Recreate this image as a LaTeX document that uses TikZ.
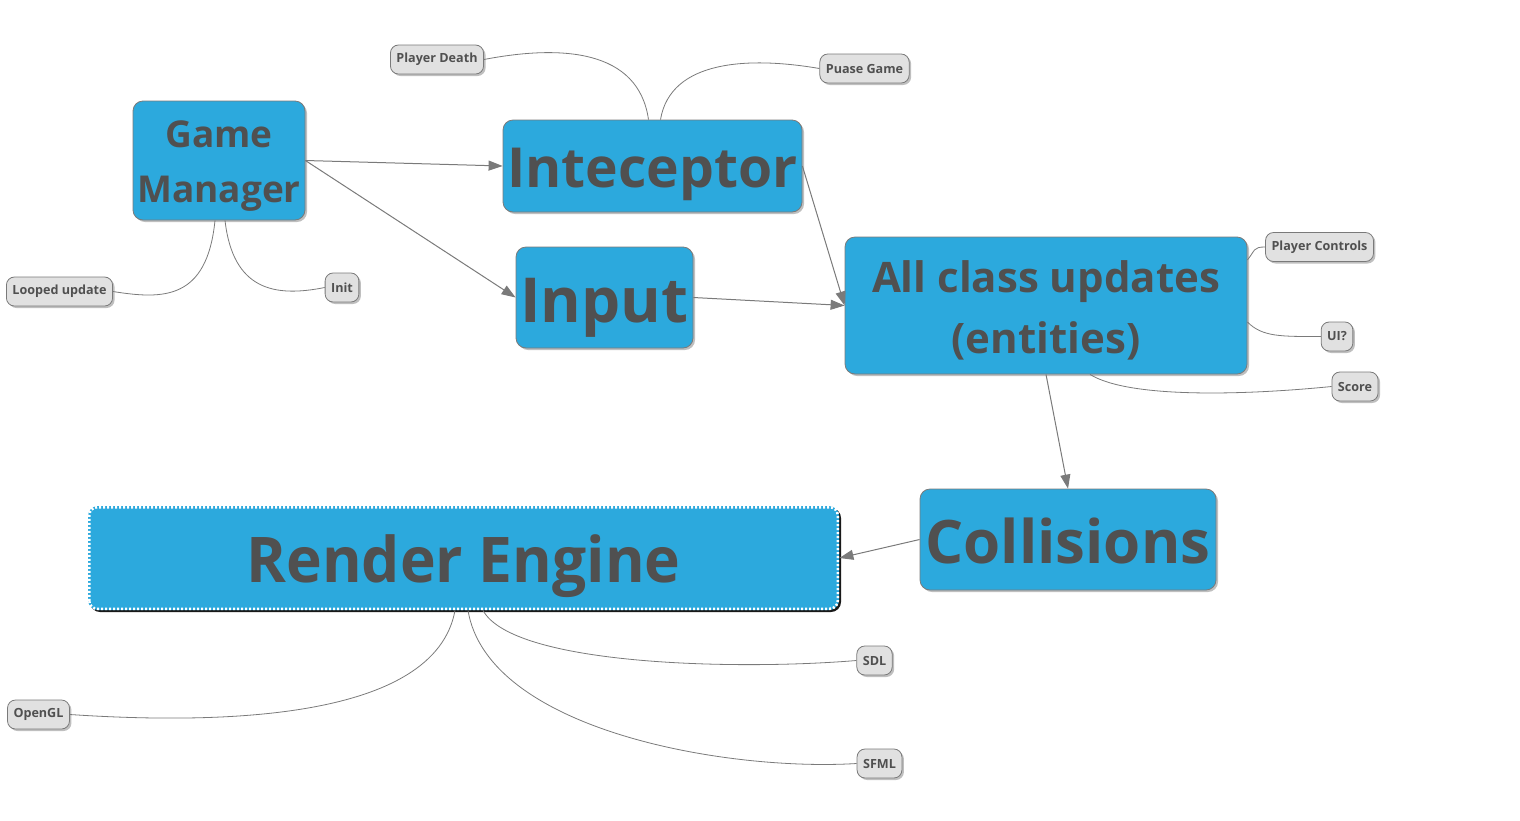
\documentclass[tikz,border=0pt]{standalone}
\usepackage{fontspec}
\setmainfont{Open Sans}
\newfontfamily\condfont[FakeStretch=0.96]{Open Sans}
\usetikzlibrary{arrows.meta,shadows}
\definecolor{boxblue}{HTML}{2CA9DD}
\definecolor{inkgray}{HTML}{505050}
\definecolor{linegray}{HTML}{7A7A7A}
\definecolor{tagfill}{HTML}{E1E1E1}

\begin{document}
\begin{tikzpicture}[x=0.5pt,y=-0.5pt,
  big/.style={draw=linegray, fill=boxblue, rounded corners=5pt, text=inkgray,
    font=\bfseries, align=center, inner sep=0pt, text depth=0pt,
    drop shadow={shadow xshift=1pt, shadow yshift=-1pt, fill=black, opacity=0.25}},
  tag/.style={draw=linegray, fill=tagfill, rounded corners=4pt, text=inkgray,
    font=\fontsize{6.3}{8}\selectfont\bfseries, minimum height=14.5pt, inner xsep=3pt,
    drop shadow={shadow xshift=1pt, shadow yshift=-1pt, fill=black, opacity=0.25}},
  flow/.style={draw=linegray, line width=0.5pt, -{Triangle[length=7pt,width=5pt]}},
  twig/.style={draw=linegray, line width=0.4pt}]
\useasboundingbox (0,0) rectangle (1520,820);

% main blocks
\node[big, minimum width=86pt, minimum height=59.5pt, text height=41.5pt,
  font=\fontsize{18.5}{27.5}\selectfont\bfseries] (gm) at (219,160.5) {Game\\Manager};
\node[big, minimum width=149.5pt, minimum height=46pt, text height=21pt,
  font=\fontsize{27.6}{34}\selectfont\bfseries] (ic) at (652.5,166) {Inteceptor};
\node[big, minimum width=88.5pt, minimum height=50.5pt, text height=24.5pt,
  font=\fontsize{31}{36}\selectfont\bfseries] (inp) at (604.5,297.5) {Input};
\node[big, minimum width=201pt, minimum height=68.5pt, text height=47.5pt,
  font=\fontsize{21}{30.5}\selectfont\bfseries] (all) at (1046,305.5) {All class updates\\(entities)};
\node[big, minimum width=148pt, minimum height=50.5pt, text height=23.5pt,
  font=\fontsize{30}{36}\selectfont\bfseries] (col) at (1068,539.5) {Collisions};
\node[fill=boxblue, rounded corners=5pt, text=inkgray, inner sep=0pt,
  minimum width=375.5pt, minimum height=52pt, text height=24pt, text depth=0pt,
  font=\fontsize{31.5}{36}\selectfont\condfont\bfseries,
  drop shadow={shadow xshift=1pt, shadow yshift=-1pt, fill=black, opacity=0.9}] (re) at (463.5,558) {Render Engine};
\draw[white, line width=1.3pt, dash pattern=on 1pt off 1pt, rounded corners=4pt]
  ([shift={(0.8pt,0.8pt)}]re.south west) rectangle ([shift={(-0.8pt,-0.8pt)}]re.north east);

% small tags
\node[tag] (pd) at (437,59.5) {Player Death};
\node[tag] (pg) at (864.5,68.5) {Puase Game};
\node[tag] (lu) at (59.5,291.5) {Looped update};
\node[tag] (it) at (342,287.5) {Init};
\node[tag] (pc) at (1319.5,247) {Player Controls};
\node[tag] (ui) at (1337,336.5) {UI?};
\node[tag] (sc) at (1355,386.5) {Score};
\node[tag] (sdl) at (874.5,660.5) {SDL};
\node[tag] (ogl) at (38.5,714.5) {OpenGL};
\node[tag] (sfml) at (879.5,763.5) {SFML};

% flow arrows
\path[flow] (gm.east) -- (ic.west);
\path[flow] (gm.east) -- (inp.west);
\path[flow] (ic.east) -- (all.west);
\path[flow] (inp.east) -- (all.west);
\path[flow] (all.south) -- (col.north);
\path[flow] (col.west) -- (re.east);

% branches
\path[twig] ([xshift=-2pt]gm.south) .. controls +(-8,80) and +(50,8) .. (lu.east);
\path[twig] ([xshift=3pt]gm.south) .. controls +(8,70) and +(-50,10) .. (it.west);
\path[twig] ([xshift=-2pt]ic.north) .. controls +(-10,-70) and +(78,-15) .. (pd.east);
\path[twig] ([xshift=4pt]ic.north) .. controls +(10,-60) and +(-70,-12) .. (pg.west);
\path[twig] ([yshift=22.75pt]all.east) .. controls +(8,-10) and +(-12,0) .. (pc.west);
\path[twig] ([yshift=-8.25pt]all.east) .. controls +(15,15) and +(-40,0) .. (ui.west);
\path[twig] ([xshift=22pt]all.south) .. controls +(40,25) and +(-80,8) .. (sc.west);
\path[twig] ([xshift=-4.25pt]re.south) .. controls +(-20,110) and +(150,10) .. (ogl.east);
\path[twig] ([xshift=9.75pt]re.south) .. controls +(30,55) and +(-120,10) .. (sdl.west);
\path[twig] ([xshift=2.25pt]re.south) .. controls +(20,120) and +(-130,8) .. (sfml.west);
\end{tikzpicture}
\end{document}
